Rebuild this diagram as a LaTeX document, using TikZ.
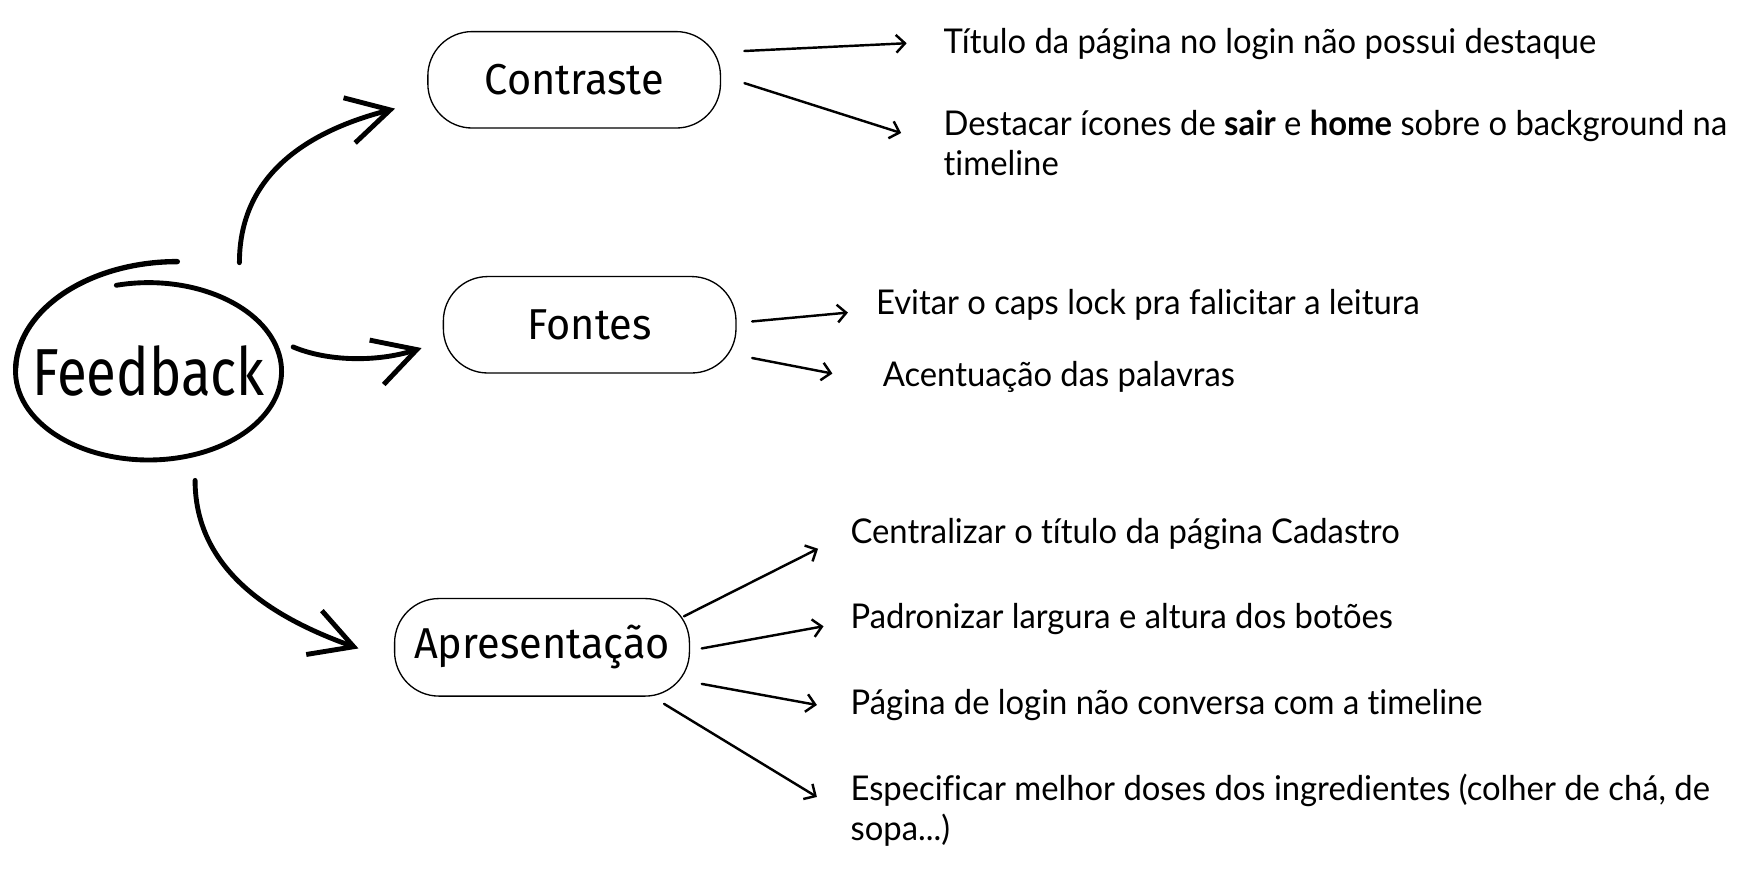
\documentclass[tikz,border=0pt]{standalone}
\usepackage{fontspec}
\setmainfont{Lato}[FakeStretch=0.96, Ligatures=NoCommon]
\newfontfamily\handfont{Fira Sans}[FakeStretch=0.82]
\newfontfamily\topicfont{Fira Sans}[FakeStretch=0.96]
\usetikzlibrary{arrows.meta,positioning}
\begin{document}
\begin{tikzpicture}[x=0.5pt,y=0.5pt]
	\tikzstyle{topic} = [rectangle, rounded corners=20pt, draw=black, line width=0.6pt, minimum width=132pt, minimum height=43.5pt, font=\topicfont\fontsize{19.5}{20}\selectfont]
	\tikzstyle{item}  = [anchor=base west, inner sep=0pt, align=left, font=\fontsize{15.4}{18}\selectfont]
	\tikzstyle{brush} = [line width=2.2pt, line cap=round, -{Straight Barb[length=19pt,width=21pt]}]
	\tikzstyle{leaf}  = [line width=1.1pt, line cap=round, -{Straight Barb[length=4pt,width=8pt]}]

	\useasboundingbox (0,0) rectangle (1568,-793);

	% centre
	\node[minimum width=120pt, minimum height=80pt, inner sep=0pt, font=\handfont\fontsize{30}{30}\selectfont] (fb) at (134,-335) {Feedback};
	\draw[line width=2.2pt, line cap=round] ([shift={(104:120 and 80)}]fb.center) arc[start angle=104, end angle=-185, x radius=120, y radius=80];
	\draw[line width=2.4pt, line cap=round] ([shift={(26,99)}]fb.center) arc[start angle=90, end angle=178, x radius=146, y radius=99];

	% topics
	\node[topic] (ct) at (518,-72) {Contraste};
	\node[topic] (fo) at (532,-293) {Fontes};
	\node[topic, minimum width=133pt, minimum height=44pt] (ap) at (489,-584) {Apresentação};

	\draw[brush] ([shift={(82,98)}]fb.center) .. controls +(0,85) and +(-70,-18) .. ([shift={(-29,-26)}]ct.west);
	\draw[brush] ([shift={(10,22)}]fb.east) .. controls +(31,-13) and +(-41,-13) .. ([shift={(-19,-21)}]fo.west);
	\draw[brush] ([shift={(42,-18)}]fb.south) .. controls +(0,-85) and +(-70,25) .. ([shift={(-32,-1)}]ap.west);

	% items
	\foreach \name/\x/\y/\text in {t1/851/-48/{Título da página no login não possui destaque},
			t2/851/-158/{Destacar ícones de \textbf{sair} e \textbf{home} sobre o background na\\timeline},
			t3/790/-284/{Evitar o caps lock pra falicitar a leitura},
			t4/796/-349/{Acentuação das palavras},
			t5/767/-490/{Centralizar o título da página Cadastro},
			t6/767/-567/{Padronizar largura e altura dos botões},
			t7/767/-645/{Página de login não conversa com a timeline},
			t8/767/-758/{Especificar melhor doses dos ingredientes (colher de chá, de\\sopa...)}}
		\node[item] (\name) at (\x,\y) {\text};

	\foreach \from/\fx/\fy/\to/\tx/\ty in {ct/21/26/t1/-33/9, ct/21/-3/t2/-38/38,
			fo/14/3/t3/-25/2, fo/14/-30/t4/-45/12,
			ap/-5.5/28/t5/-29/-5, ap/10.5/-1/t6/-24/2, ap/10.5/-33/t7/-30/9, ap/-23.5/-51/t8/-30/39}
		\draw[leaf] ([shift={(\fx,\fy)}]\from.east) -- ([shift={(\tx,\ty)}]\to.base west);
\end{tikzpicture}
\end{document}
